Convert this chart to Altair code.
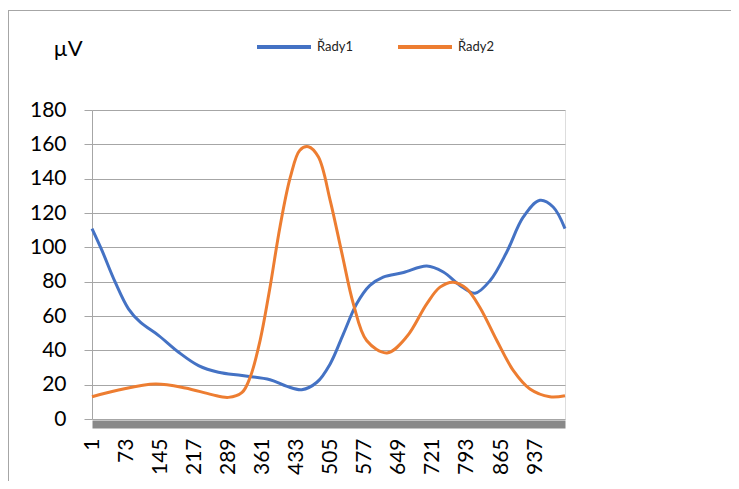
import altair as alt
import pandas as pd

# Series values
x1 = [1, 22, 50, 78, 103, 142, 184, 226, 268, 318, 377, 413, 444, 476, 504, 532,
      560, 588, 616, 659, 708, 743, 778, 810, 842, 877, 912, 947, 975, 1000]
y1 = [110.9, 98.2, 79.7, 64.2, 56.4, 48.6, 38.9, 31.1, 27.2, 25.3, 22.9, 19.0, 17.1,
      21.4, 32.1, 49.6, 67.1, 77.8, 82.7, 85.3, 89.1, 85.6, 77.8, 73.3, 80.7, 97.3,
      117.7, 127.4, 123.5, 110.9]

x2 = [1, 57, 135, 198, 254, 289, 318, 335, 356, 377, 398, 420, 440, 458, 479, 504,
      529, 553, 581, 624, 666, 708, 736, 764, 792, 820, 856, 891, 926, 968, 1000]
y2 = [13.0, 16.9, 20.4, 18.1, 14.2, 12.6, 15.5, 24.3, 45.7, 76.8, 111.9, 141.0,
      156.6, 158.6, 152.7, 127.4, 96.3, 67.1, 45.7, 38.5, 48.0, 67.1, 76.8, 79.7,
      75.9, 65.1, 45.7, 28.2, 17.5, 13.0, 13.6]

series_names = ["Řady1", "Řady2"]
series_colors = ["#4472C4", "#ED7D31"]
x_ticks = [1, 73, 145, 217, 289, 361, 433, 505, 577, 649, 721, 793, 865, 937]
y_ticks = [0, 20, 40, 60, 80, 100, 120, 140, 160, 180]

df = pd.concat([
    pd.DataFrame({"x": x1, "y": y1, "s": series_names[0]}),
    pd.DataFrame({"x": x2, "y": y2, "s": series_names[1]}),
])

FONT = "Lato"
GRID = "#a6a6a6"

lines = alt.Chart(df).mark_line(strokeWidth=3, interpolate="catmull-rom").encode(
    x=alt.X("x:Q",
            scale=alt.Scale(domain=[1, 1000], nice=False, zero=False),
            axis=alt.Axis(values=x_ticks, title=None, grid=False, ticks=False,
                          labelAngle=270, labelFont=FONT, labelFontSize=21,
                          labelColor="#000000", labelPadding=14, offset=5,
                          domainColor="#898989", domainWidth=8,
                          labelOverlap=False, labelFlush=False)),
    y=alt.Y("y:Q",
            scale=alt.Scale(domain=[0, 180], nice=False),
            axis=alt.Axis(values=y_ticks, title="µV", titleAngle=0,
                          titleAlign="left", titleBaseline="middle",
                          titleX=-39, titleY=-62, titleFont=FONT,
                          titleFontSize=22, titleFontWeight="normal",
                          titleColor="#000000",
                          grid=True, gridColor=GRID, gridWidth=1,
                          tickColor=GRID, tickSize=8, domainColor=GRID,
                          labelFont=FONT, labelFontSize=21, labelColor="#000000",
                          labelPadding=18)),
    color=alt.Color("s:N",
                    scale=alt.Scale(domain=series_names, range=series_colors),
                    legend=alt.Legend(title=None, orient="none", direction="horizontal",
                                      legendX=163, legendY=-92,
                                      symbolType="stroke", symbolSize=2916,
                                      symbolStrokeWidth=4, labelFont=FONT,
                                      labelFontSize=13, labelColor="#222222",
                                      labelOffset=4, columnPadding=36, padding=0)),
)

frame = alt.Data(values=[{"k": 1}])
left_border = alt.Chart(frame).mark_rule(color=GRID, strokeWidth=1).encode(
    x=alt.value(-83.5), y=alt.value(-99.5), y2=alt.value(371))
top_border = alt.Chart(frame).mark_rule(color=GRID, strokeWidth=1).encode(
    x=alt.value(-84), x2=alt.value(639), y=alt.value(-99.5))

chart = alt.layer(lines, left_border, top_border).properties(
    width=473, height=309,
    autosize=alt.AutoSizeParams(type="none"),
    padding={"left": 84, "top": 102, "right": 166, "bottom": 62},
).configure_view(stroke=None).configure(background="white")

chart.save("out.html", embed_options={"renderer": "svg", "actions": False})
